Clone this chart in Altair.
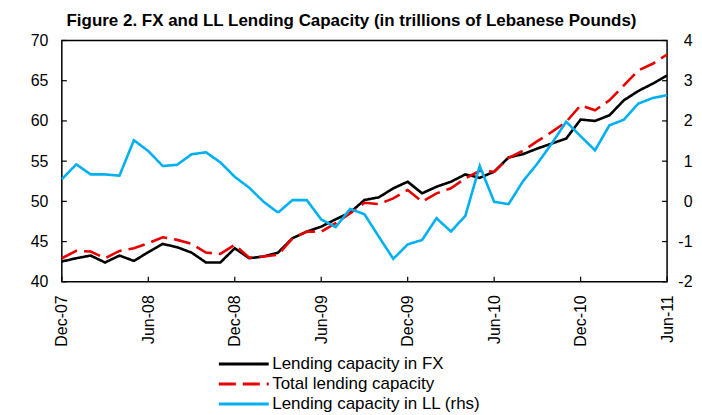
import altair as alt
import pandas as pd

tick_labels = ["Dec-07", "Jun-08", "Dec-08", "Jun-09", "Dec-09", "Jun-10", "Dec-10", "Jun-11"]
months = list(range(43))  # monthly index, Dec-07 .. Jun-11

fx = [42.52, 42.93, 43.26, 42.40, 43.26, 42.60, 43.68, 44.71, 44.30, 43.63, 42.40, 42.40,
      44.17, 42.93, 43.14, 43.63, 45.41, 46.24, 46.86, 47.77, 48.60, 50.17, 50.50, 51.62,
      52.44, 51.00, 51.82, 52.44, 53.35, 52.93, 53.68, 55.46, 55.87, 56.57, 57.19, 57.81,
      60.17, 60.00, 60.70, 62.56, 63.72, 64.63, 65.66]
total = [42.93, 43.84, 43.76, 42.93, 43.84, 44.17, 44.80, 45.54, 45.21, 44.71, 43.63, 43.47,
         44.59, 43.00, 43.14, 43.35, 45.41, 46.24, 46.24, 47.28, 48.50, 49.83, 49.67, 50.37,
         51.40, 49.96, 51.00, 51.62, 52.86, 53.80, 53.68, 55.40, 56.28, 57.48, 58.64, 59.88,
         61.94, 61.32, 62.56, 64.42, 66.28, 67.11, 68.26]
ll = [0.55, 0.92, 0.67, 0.67, 0.64, 1.52, 1.25, 0.88, 0.91, 1.17, 1.22, 0.97,
      0.61, 0.34, -0.01, -0.28, 0.03, 0.03, -0.45, -0.64, -0.19, -0.32, -0.88, -1.43,
      -1.07, -0.96, -0.42, -0.75, -0.36, 0.88, -0.01, -0.07, 0.50, 0.94, 1.44, 1.98,
      1.62, 1.27, 1.89, 2.03, 2.43, 2.57, 2.64]

series_names = ["Lending capacity in FX", "Total lending capacity", "Lending capacity in LL (rhs)"]
series_colors = ["#000000", "#E60000", "#00B0F0"]
series_dash = [[1, 0], [17, 7], [1, 0]]

left_ticks = [40, 45, 50, 55, 60, 65, 70]
right_ticks = [-2, -1, 0, 1, 2, 3, 4]
x_ticks = [0, 6, 12, 18, 24, 30, 36, 42]

W, H = 607, 242
FONT = "Liberation Sans"

left_df = pd.DataFrame({
    "i": months * 2,
    "value": fx + total,
    "series": [series_names[0]] * 43 + [series_names[1]] * 43,
})
right_df = pd.DataFrame({"i": months, "value": ll, "series": [series_names[2]] * 43})

label_arr = "[" + ",".join("'%s'" % t for t in tick_labels) + "]"

x_scale = alt.Scale(domain=[0, 42], nice=False, zero=False)
yl_scale = alt.Scale(domain=[40, 70], nice=False, zero=False)
yr_scale = alt.Scale(domain=[-2, 4], nice=False, zero=False)

x_axis = alt.Axis(values=x_ticks, labelExpr=label_arr + "[round(datum.value/6)]",
                  labelAngle=270, ticks=False, domain=False, grid=False,
                  labelPadding=13, labelFontSize=16, labelFont=FONT,
                  labelColor="black", title=None)
yl_axis = alt.Axis(values=left_ticks, ticks=False, domain=False, grid=False,
                   labelPadding=14, labelFontSize=16, labelFont=FONT,
                   labelColor="black", title=None)
yr_axis = alt.Axis(orient="right", values=right_ticks, ticks=False, domain=False,
                   grid=False, labelAlign="right", labelPadding=25, labelFontSize=16,
                   labelExpr="'' + datum.value",
                   labelFont=FONT, labelColor="black", title=None)

color = alt.Color("series:N", scale=alt.Scale(domain=series_names, range=series_colors),
                  legend=alt.Legend(title=None))
dash = alt.StrokeDash("series:N", scale=alt.Scale(domain=series_names, range=series_dash),
                      legend=alt.Legend(title=None))

left_lines = alt.Chart(left_df).mark_line(strokeWidth=2.6).encode(
    x=alt.X("i:Q", scale=x_scale, axis=x_axis),
    y=alt.Y("value:Q", scale=yl_scale, axis=yl_axis),
    color=color, strokeDash=dash,
)

lt_df = pd.DataFrame({"value": left_ticks})
left_tick_marks = alt.Chart(lt_df).mark_rule(color="black", strokeWidth=1.2).encode(
    y=alt.Y("value:Q", scale=yl_scale, axis=yl_axis), x=alt.value(0), x2=alt.value(5))

xt_df = pd.DataFrame({"i": x_ticks})
x_tick_marks = alt.Chart(xt_df).mark_rule(color="black", strokeWidth=1.2).encode(
    x=alt.X("i:Q", scale=x_scale, axis=x_axis), y=alt.value(H - 5), y2=alt.value(H))

right_line = alt.Chart(right_df).mark_line(strokeWidth=2.6).encode(
    x=alt.X("i:Q", scale=x_scale, axis=x_axis),
    y=alt.Y("value:Q", scale=yr_scale, axis=yr_axis),
    color=color, strokeDash=dash,
)

rt_df = pd.DataFrame({"value": right_ticks})
right_tick_marks = alt.Chart(rt_df).mark_rule(color="black", strokeWidth=1.2).encode(
    y=alt.Y("value:Q", scale=yr_scale, axis=yr_axis), x=alt.value(W - 5), x2=alt.value(W))

left = alt.layer(left_lines, left_tick_marks, x_tick_marks)
right = alt.layer(right_line, right_tick_marks)

chart = alt.layer(left, right).resolve_scale(y="independent").properties(
    width=W, height=H,
    title=alt.TitleParams(
        "Figure 2. FX and LL Lending Capacity (in trillions of Lebanese Pounds)",
        fontSize=17, font=FONT, fontWeight="bold", anchor="middle", frame="group",
        dx=-13, offset=3, color="black"),
    autosize=alt.AutoSizeParams(type="none"),
    padding={"left": 54, "top": 32, "right": 27, "bottom": 130},
).configure_view(
    stroke="black", strokeWidth=1.5
).configure_legend(
    orient="none", legendX=156, legendY=313, symbolType="M-1,0H4", symbolSize=400,
    symbolStrokeWidth=3, labelFontSize=17, labelFont=FONT, labelColor="black",
    rowPadding=0, labelOffset=32, padding=0, labelLimit=500
)

chart.save("out.html", embed_options={"renderer": "svg", "actions": False})
